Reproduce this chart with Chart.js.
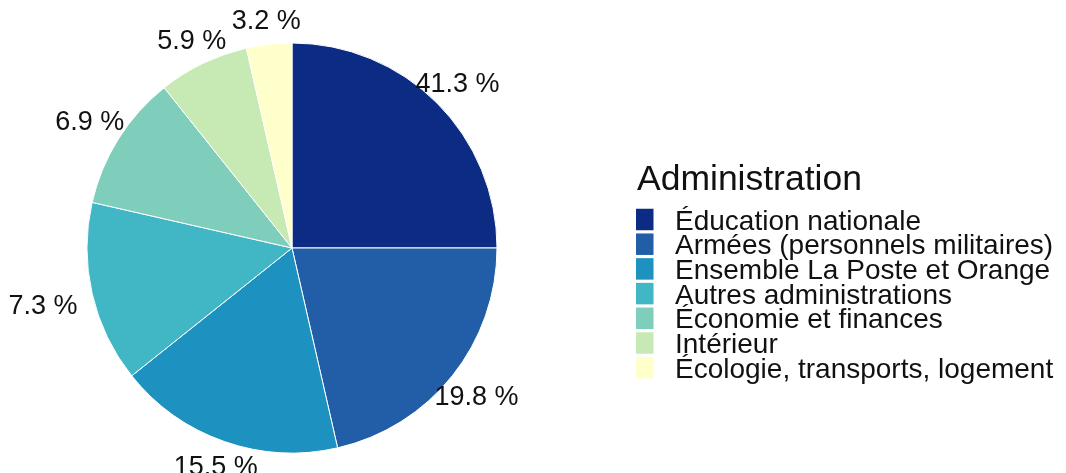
<!DOCTYPE html>
<html>
<head>
<meta charset="utf-8">
<title>Administration</title>
<script src="https://cdn.jsdelivr.net/npm/chart.js@4.4.0/dist/chart.umd.min.js"></script>
<style>
  html, body { margin: 0; padding: 0; background: #fff; }
  canvas { display: block; }
</style>
</head>
<body>
<canvas id="pie-chart" width="1066" height="473"></canvas>
<script>
// legend order = slice order (clockwise from 12 o'clock)
var categories = [
    'Éducation nationale',
    'Armées (personnels militaires)',
    'Ensemble La Poste et Orange',
    'Autres administrations',
    'Économie et finances',
    'Intérieur',
    'Écologie, transports, logement'
];
// slice sizes as they are drawn in the picture
var sliceValues = [7, 6, 5, 4, 3, 2, 1];
// percentages printed next to each slice
var shareLabels = [41.3, 19.8, 15.5, 7.3, 6.9, 5.9, 3.2];
var legendTitle = 'Administration';

// YlGnBu
var palette = ['#0C2C84', '#225EA8', '#1D91C0', '#41B6C4', '#7FCDBB', '#C7E9B4', '#FFFFCC'];
var FONT = '"Liberation Sans", Arial, Helvetica, sans-serif';

function formatShare(v) {
    return v.toFixed(1) + ' %';
}

// percentage text outside each slice
var sliceLabelsPlugin = {
    id: 'sliceLabels',
    afterDatasetsDraw: function (chart) {
        var ctx = chart.ctx;
        var arcs = chart.getDatasetMeta(0).data;
        ctx.save();
        ctx.font = '27px ' + FONT;
        ctx.fillStyle = '#111';
        ctx.textAlign = 'center';
        ctx.textBaseline = 'alphabetic';
        arcs.forEach(function (arc, i) {
            var p = arc.getProps(['x', 'y', 'startAngle', 'endAngle', 'outerRadius'], true);
            var mid = (p.startAngle + p.endAngle) / 2;
            var text = formatShare(shareLabels[i]);
            var hw = ctx.measureText(text).width / 2;
            var hh = 10;
            var c = Math.abs(Math.cos(mid)), s = Math.abs(Math.sin(mid));
            // distance from the text centre to the edge of its box along the ray
            var edge = Math.min(c > 0.001 ? hw / c : Infinity, s > 0.001 ? hh / s : Infinity);
            var r = p.outerRadius + 15 + edge;
            ctx.fillText(text, p.x + Math.cos(mid) * r, p.y + Math.sin(mid) * r + 9.5);
        });
        ctx.restore();
    }
};

// legend on the right, ggplot style (title + square keys)
var sideLegendPlugin = {
    id: 'sideLegend',
    afterDraw: function (chart) {
        var ctx = chart.ctx;
        var keyX = 636, textX = 675;
        ctx.save();
        ctx.textAlign = 'left';
        ctx.textBaseline = 'alphabetic';
        ctx.fillStyle = '#111';
        ctx.font = '35.5px ' + FONT;
        ctx.fillText(legendTitle, 637, 190);
        ctx.font = '28px ' + FONT;
        categories.forEach(function (name, i) {
            var cy = 219.5 + i * 24.7;
            ctx.fillStyle = palette[i];
            ctx.fillRect(keyX, cy - 10.75, 17.5, 21.5);
            ctx.fillStyle = '#111';
            ctx.fillText(name, textX, cy + 10);
        });
        ctx.restore();
    }
};

var pieChart = new Chart(document.getElementById('pie-chart'), {
    type: 'pie',
    data: {
        labels: categories,
        datasets: [{
            data: sliceValues,
            backgroundColor: palette,
            borderColor: '#ffffff',
            borderWidth: 1
        }]
    },
    options: {
        responsive: false,
        animation: false,
        radius: 205,
        layout: {
            padding: {left: 87, top: 43, right: 569, bottom: 20}
        },
        plugins: {
            legend: {display: false},
            tooltip: {enabled: false}
        }
    },
    plugins: [sliceLabelsPlugin, sideLegendPlugin]
});
</script>
</body>
</html>
